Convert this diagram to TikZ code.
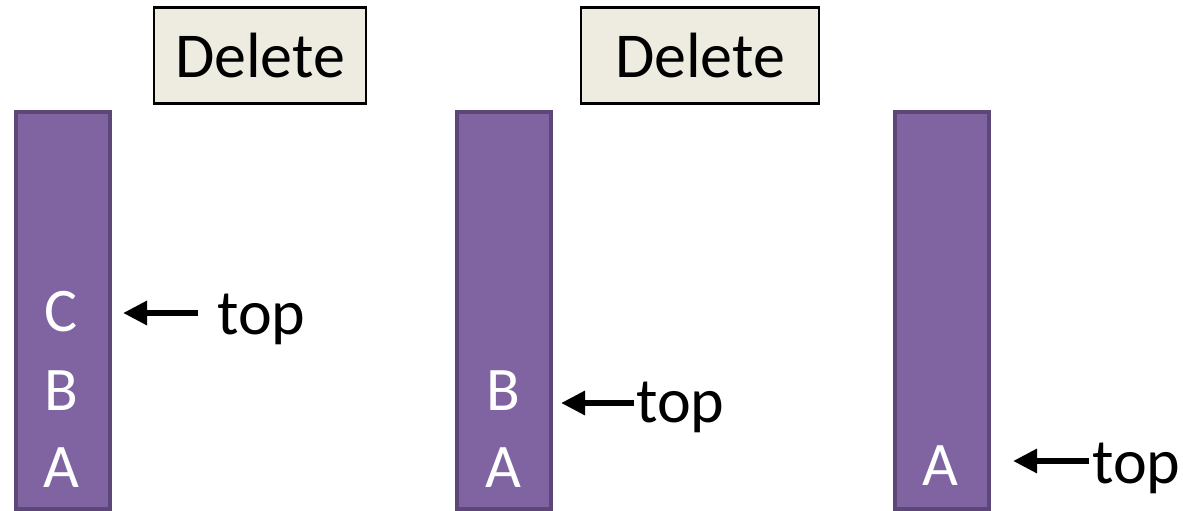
\documentclass[tikz,border=0pt]{standalone}
\usepackage{fontspec}
\setmainfont{Carlito}
\usetikzlibrary{arrows.meta}
\definecolor{stackfill}{HTML}{8064A2}
\definecolor{stackline}{HTML}{5D4779}
\definecolor{opfill}{HTML}{EEECE1}
\begin{document}
\begin{tikzpicture}[x=1bp,y=-1bp,
  stackcol/.style={draw=stackline,fill=stackfill,line width=4bp,anchor=north west,
    minimum width=94bp,minimum height=397bp,inner sep=0pt},
  opbox/.style={draw=black,fill=opfill,line width=2.5bp,minimum height=96bp,inner sep=0pt,
    font=\fontsize{64bp}{70bp}\selectfont},
  item/.style={text=white,anchor=base,inner sep=0pt,font=\fontsize{62bp}{68bp}\selectfont},
  toplabel/.style={anchor=base west,inner sep=0pt,font=\fontsize{64bp}{70bp}\selectfont},
  ptr/.style={line width=6.5bp,-{Triangle[length=24bp,width=23bp]}}]
\useasboundingbox (0,0) rectangle (1183,511);
\fill[white] (0,0) rectangle (1183,511);

% operation boxes
\node[opbox,minimum width=212bp] (del1) at (260,55.5) {Delete};
\node[opbox,minimum width=238bp] (del2) at (700,55.5) {Delete};

% the three stacks
\node[stackcol] (stack1) at (14,110) {};
\node[stackcol] (stack2) at (455,110) {};
\node[stackcol] (stack3) at (893,110) {};

% stack contents
\node[item] (s1c) at (61,332) {C};
\node[item] (s1b) at (61,410) {B};
\node[item] (s1a) at (61,487) {A};
\node[item] (s2b) at (503,410) {B};
\node[item] (s2a) at (503,487) {A};
\node[item] (s3a) at (940,485) {A};

% top pointers
\node[toplabel] (top1) at (217,335) {top};
\node[toplabel] (top2) at (636,422) {top};
\node[toplabel] (top3) at (1092,483) {top};
\coordinate (tail1) at (198,313);
\coordinate (head1) at (123,313);
\coordinate (tail2) at (634,403);
\coordinate (head2) at (561,403);
\coordinate (tail3) at (1089,461);
\coordinate (head3) at (1013,461);
\draw[ptr] (tail1) -- (head1);
\draw[ptr] (tail2) -- (head2);
\draw[ptr] (tail3) -- (head3);
\end{tikzpicture}
\end{document}
